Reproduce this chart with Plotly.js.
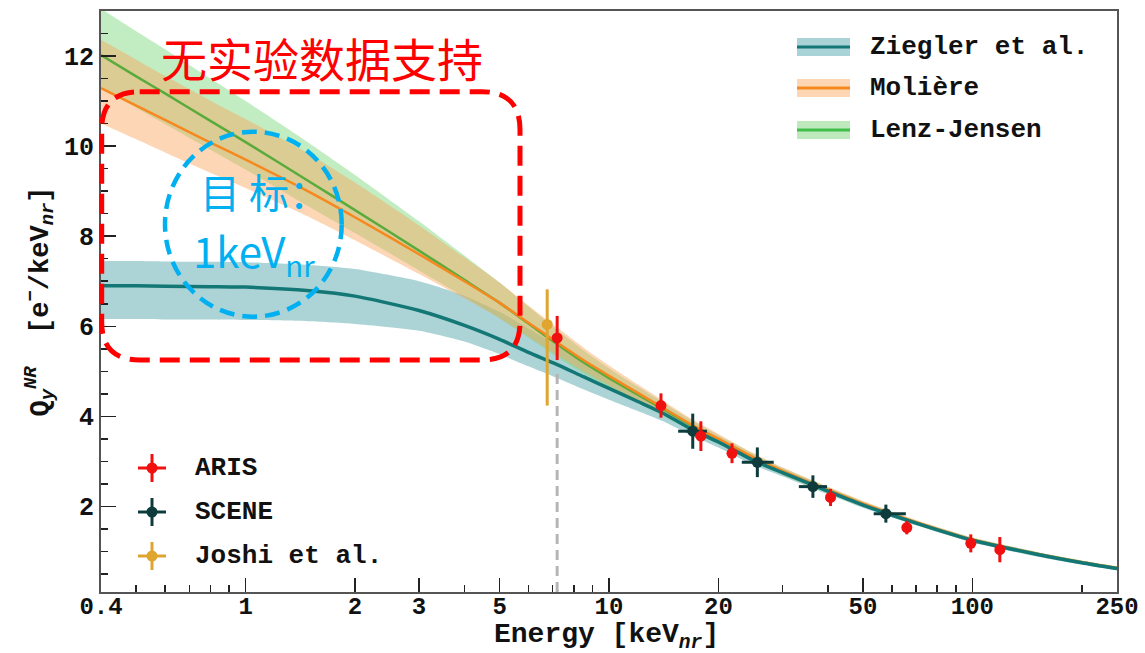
<!DOCTYPE html>
<html>
<head>
<meta charset="utf-8">
<script src="https://cdn.plot.ly/plotly-3.0.1.min.js"></script>
<style>
  html, body { margin: 0; padding: 0; background: #ffffff; }
  #chart { width: 1145px; height: 653px; }
</style>
</head>
<body>
<div id="chart"></div>
<script>
// ---------------- data ----------------
const energy = [0.4, 0.5, 0.6, 0.8, 1, 1.5, 2, 3, 4, 5, 6, 7.2, 8.5, 10, 12, 14, 17, 20, 25, 30, 40, 50, 70, 100, 150, 200, 250];

const zieglerMid = [6.90, 6.90, 6.89, 6.88, 6.87, 6.79, 6.67, 6.35, 6.02, 5.71, 5.42, 5.15, 4.88, 4.62, 4.33, 4.08, 3.70, 3.43, 3.02, 2.75, 2.34, 2.03, 1.63, 1.25, 0.94, 0.75, 0.62];
const zieglerHi  = [7.45, 7.45, 7.44, 7.43, 7.42, 7.36, 7.27, 7.00, 6.68, 6.32, 5.95, 5.57, 5.20, 4.87, 4.52, 4.24, 3.83, 3.54, 3.11, 2.83, 2.41, 2.09, 1.68, 1.30, 0.99, 0.79, 0.66];
const zieglerLo  = [6.16, 6.16, 6.15, 6.15, 6.14, 6.11, 6.05, 5.90, 5.66, 5.38, 5.11, 4.85, 4.60, 4.37, 4.12, 3.90, 3.56, 3.31, 2.92, 2.67, 2.27, 1.97, 1.58, 1.20, 0.89, 0.71, 0.58];

const moliereMid = [11.29, 10.90, 10.58, 10.08, 9.70, 8.98, 8.42, 7.60, 7.00, 6.52, 6.08, 5.64, 5.25, 4.90, 4.52, 4.20, 3.80, 3.50, 3.09, 2.79, 2.37, 2.06, 1.65, 1.26, 0.95, 0.76, 0.63];
const moliereHi  = [12.36, 11.92, 11.56, 11.01, 10.60, 9.82, 9.19, 8.24, 7.53, 6.97, 6.46, 5.97, 5.53, 5.13, 4.71, 4.36, 3.93, 3.61, 3.18, 2.87, 2.44, 2.12, 1.70, 1.31, 0.99, 0.80, 0.67];
const moliereLo  = [10.50, 10.15, 9.86, 9.41, 9.07, 8.42, 7.91, 7.16, 6.62, 6.18, 5.77, 5.36, 5.00, 4.69, 4.34, 4.05, 3.68, 3.40, 3.00, 2.71, 2.30, 2.00, 1.60, 1.21, 0.91, 0.72, 0.59];

const lenzMid = [12.02, 11.55, 11.17, 10.56, 10.09, 9.21, 8.58, 7.68, 7.03, 6.52, 6.06, 5.60, 5.20, 4.85, 4.48, 4.17, 3.78, 3.48, 3.08, 2.78, 2.36, 2.05, 1.64, 1.26, 0.95, 0.76, 0.63];
const lenzHi  = [13.05, 12.55, 12.15, 11.50, 11.00, 10.06, 9.36, 8.33, 7.57, 6.97, 6.44, 5.92, 5.47, 5.07, 4.66, 4.32, 3.90, 3.58, 3.17, 2.86, 2.43, 2.11, 1.69, 1.31, 0.99, 0.80, 0.67];
const lenzLo  = [11.30, 10.85, 10.49, 9.92, 9.48, 8.65, 8.07, 7.24, 6.65, 6.18, 5.75, 5.32, 4.95, 4.64, 4.30, 4.02, 3.66, 3.38, 2.99, 2.70, 2.29, 1.99, 1.59, 1.21, 0.91, 0.72, 0.59];

const arisE    = [7.2, 13.9, 17.9, 21.8, 40.7, 66.0, 99, 119];
const arisQ    = [5.74, 4.24, 3.56, 3.18, 2.20, 1.53, 1.18, 1.04];
const arisErrQ = [0.49, 0.27, 0.33, 0.22, 0.19, 0.15, 0.20, 0.28];
const arisErrE = [0.15, 0.3, 0.6, 0.4, 0.8, 1.2, 1.8, 2.2];

const sceneE       = [17.0, 25.6, 36.4, 57.8];
const sceneQ       = [3.67, 2.98, 2.44, 1.84];
const sceneErrQ    = [0.39, 0.33, 0.25, 0.20];
const sceneErrEPlus  = [1.6, 2.8, 3.4, 7.8];
const sceneErrEMinus = [1.5, 2.4, 3.1, 4.3];

const joshiE = [6.76];
const joshiQ = [6.04];
const joshiErrQPlus  = [0.78];
const joshiErrQMinus = [1.80];

const thresholdE = [7.2, 7.2];
const thresholdQ = [0.1, 5.0];

const xTickVals  = [0.4, 1, 2, 3, 5, 10, 20, 50, 100, 250];
const xTickText  = ['0.4', '1', '2', '3', '5', '10', '20', '50', '100', '250'];
const xMinorVals = [0.5, 0.6, 0.7, 0.8, 0.9, 4, 6, 7, 8, 9, 30, 40, 60, 70, 80, 90, 200];
const yTickVals  = [2, 4, 6, 8, 10, 12];

const modelNames = ['Ziegler et al.', 'Molière', 'Lenz-Jensen'];
const dataNames  = ['ARIS', 'SCENE', 'Joshi et al.'];

// ---------------- styles ----------------
const C = {
  zLine: '#137776', zBand: 'rgba(90,170,176,0.50)', zLeg: '#a9d3d6',
  mLine: '#f5891f', mBand: 'rgba(250,165,90,0.45)', mLeg: '#fdd6b3',
  lLine: '#5aab3c', lBand: 'rgba(120,215,120,0.45)', lLeg: '#bde9bc', lLegLine: '#3fbf4a',
  aris: '#f01010', scene: '#0e3b3c', joshi: '#dfa52f'
};
const monoFont = 'Liberation Mono, Courier New, monospace';

function bandPair(x, hi, lo, color, name) {
  return [
    { x: x, y: lo, type: 'scatter', mode: 'lines', line: { width: 0, shape: 'spline', smoothing: 0.6, color: 'rgba(0,0,0,0)' },
      hoverinfo: 'skip', showlegend: false, name: name + ' low' },
    { x: x, y: hi, type: 'scatter', mode: 'lines', fill: 'tonexty', fillcolor: color,
      line: { width: 0, shape: 'spline', smoothing: 0.6, color: 'rgba(0,0,0,0)' }, hoverinfo: 'skip', showlegend: false, name: name + ' high' }
  ];
}
function curve(x, y, color, width, name) {
  return { x: x, y: y, type: 'scatter', mode: 'lines', line: { color: color, width: width, shape: 'spline', smoothing: 0.6 }, showlegend: false, name: name };
}

const traces = [].concat(
  bandPair(energy, zieglerHi, zieglerLo, C.zBand, modelNames[0]),
  bandPair(energy, lenzHi, lenzLo, C.lBand, modelNames[2]),
  bandPair(energy, moliereHi, moliereLo, C.mBand, modelNames[1]),
  [
  curve(energy, lenzMid, C.lLine, 2.5, modelNames[2]),
  curve(energy, moliereMid, C.mLine, 2.5, modelNames[1]),
  curve(energy, zieglerMid, C.zLine, 3.5, modelNames[0]),
  { x: thresholdE, y: thresholdQ, type: 'scatter', mode: 'lines', line: { color: '#b5b5b5', width: 3, dash: '10px,6px' }, showlegend: false, hoverinfo: 'skip' },
  { x: joshiE, y: joshiQ, type: 'scatter', mode: 'markers', name: dataNames[2], showlegend: false,
    marker: { color: C.joshi, size: 11 },
    error_y: { type: 'data', symmetric: false, array: joshiErrQPlus, arrayminus: joshiErrQMinus, color: C.joshi, thickness: 3, width: 0 } },
  { x: sceneE, y: sceneQ, type: 'scatter', mode: 'markers', name: dataNames[1], showlegend: false,
    marker: { color: C.scene, size: 11 },
    error_y: { type: 'data', array: sceneErrQ, color: C.scene, thickness: 3, width: 0 },
    error_x: { type: 'data', symmetric: false, array: sceneErrEPlus, arrayminus: sceneErrEMinus, color: C.scene, thickness: 3, width: 0 } },
  { x: arisE, y: arisQ, type: 'scatter', mode: 'markers', name: dataNames[0], showlegend: false,
    marker: { color: C.aris, size: 11 },
    error_y: { type: 'data', array: arisErrQ, color: C.aris, thickness: 3, width: 0 },
    error_x: { type: 'data', array: arisErrE, color: C.aris, thickness: 3, width: 0 } }
  ]
);

// ---------------- layout helpers (pixel -> paper) ----------------
const M = { l: 101, r: 28, t: 11, b: 61 };
const PW = 1145 - M.l - M.r, PH = 653 - M.t - M.b;
const px = v => (v - M.l) / PW;
const py = v => (653 - M.b - v) / PH;

const shapes = [];
const annotations = [];

// model legend (top right)
const modelLegY = [47, 88, 130];
const modelLegBand = [C.zLeg, C.mLeg, C.lLeg];
const modelLegLine = [C.zLine, C.mLine, C.lLegLine];
modelNames.forEach((nm, i) => {
  const yc = modelLegY[i];
  shapes.push({ type: 'rect', xref: 'paper', yref: 'paper', x0: px(797), x1: px(850), y0: py(yc + 9), y1: py(yc - 9), fillcolor: modelLegBand[i], line: { width: 0 }, layer: 'above' });
  shapes.push({ type: 'line', xref: 'paper', yref: 'paper', x0: px(797), x1: px(850), y0: py(yc), y1: py(yc), line: { color: modelLegLine[i], width: 3 }, layer: 'above' });
  annotations.push({ xref: 'paper', yref: 'paper', x: px(868), y: py(yc), xanchor: 'left', yanchor: 'middle', showarrow: false, text: nm,
    font: { family: monoFont, size: 26, color: '#111', weight: 'bold' } });
});

// data legend (bottom left)
const dataLegY = [468, 512, 556];
const dataLegCol = [C.aris, C.scene, C.joshi];
dataNames.forEach((nm, i) => {
  const yc = dataLegY[i], xc = 152;
  shapes.push({ type: 'line', xref: 'paper', yref: 'paper', x0: px(xc - 14), x1: px(xc + 14), y0: py(yc), y1: py(yc), line: { color: dataLegCol[i], width: 3 }, layer: 'above' });
  shapes.push({ type: 'line', xref: 'paper', yref: 'paper', x0: px(xc), x1: px(xc), y0: py(yc - 14), y1: py(yc + 14), line: { color: dataLegCol[i], width: 3 }, layer: 'above' });
  shapes.push({ type: 'circle', xref: 'paper', yref: 'paper', x0: px(xc - 5.5), x1: px(xc + 5.5), y0: py(yc + 5.5), y1: py(yc - 5.5), fillcolor: dataLegCol[i], line: { width: 0 }, layer: 'above' });
  annotations.push({ xref: 'paper', yref: 'paper', x: px(193), y: py(yc), xanchor: 'left', yanchor: 'middle', showarrow: false, text: nm,
    font: { family: monoFont, size: 26, color: '#111', weight: 'bold' } });
});

// red dashed rounded rectangle
(function () {
  const x0 = px(101.7), x1 = px(520), yt = py(91.7), yb = py(360);
  const rx = 38 / PW, ry = 38 / PH;
  const path = `M ${x0 + rx},${yt} L ${x1 - rx},${yt} Q ${x1},${yt} ${x1},${yt - ry} L ${x1},${yb + ry} Q ${x1},${yb} ${x1 - rx},${yb} ` +
               `L ${x0 + rx},${yb} Q ${x0},${yb} ${x0},${yb + ry} L ${x0},${yt - ry} Q ${x0},${yt} ${x0 + rx},${yt} Z`;
  shapes.push({ type: 'path', xref: 'paper', yref: 'paper', path: path, line: { color: '#ff0000', width: 5, dash: '20px,10px' }, layer: 'above' });
})();

// blue dashed circle
shapes.push({ type: 'circle', xref: 'paper', yref: 'paper', x0: px(165), x1: px(341.7), y0: py(316.7), y1: py(131.7),
  line: { color: '#00b0f0', width: 4.5, dash: '15px,8px' }, layer: 'above' });

annotations.push({ xref: 'paper', yref: 'paper', x: px(322), y: py(57), xanchor: 'center', yanchor: 'middle', showarrow: false,
  text: '无实验数据支持', font: { family: 'Noto Sans CJK SC', size: 46, color: '#ff0000' } });
annotations.push({ xref: 'paper', yref: 'paper', x: px(198), y: py(191), xanchor: 'left', yanchor: 'middle', showarrow: false,
  text: '目 标：', font: { family: 'Noto Sans CJK SC', size: 40, color: '#00b0f0' } });
annotations.push({ xref: 'paper', yref: 'paper', x: px(191), y: py(252), xanchor: 'left', yanchor: 'middle', showarrow: false,
  text: '1keV<sub>nr</sub>', font: { family: 'Noto Sans CJK SC', size: 42, color: '#00b0f0' } });

// x-axis title placed below the tick labels
annotations.push({ xref: 'paper', yref: 'paper', x: px(606), y: py(636), xanchor: 'center', yanchor: 'middle', showarrow: false,
  text: 'Energy [keV<sub><i>nr</i></sub>]', font: { family: monoFont, size: 28, color: '#111', weight: 'bold' } });

const layout = {
  width: 1145, height: 653,
  margin: M,
  paper_bgcolor: '#ffffff', plot_bgcolor: '#ffffff',
  showlegend: false,
  xaxis: {
    type: 'log', range: [Math.log10(0.4), Math.log10(250)],
    tickmode: 'array', tickvals: xTickVals, ticktext: xTickText,
    ticks: 'inside', ticklen: 14, tickwidth: 1.5, tickcolor: '#222',
    minor: { tickmode: 'array', tickvals: xMinorVals, ticks: 'inside', ticklen: 7, tickwidth: 1.5, tickcolor: '#222', showgrid: false },
    showgrid: false, zeroline: false,
    showline: true, linecolor: '#555', linewidth: 2, mirror: true,
    ticklabelstandoff: -9,
    tickfont: { family: monoFont, size: 24, color: '#111', weight: 'bold' }
  },
  yaxis: {
    range: [0.1, 13.0],
    tickmode: 'array', tickvals: yTickVals,
    ticks: 'inside', ticklen: 15, tickwidth: 1.5, tickcolor: '#222',
    minor: { dtick: 0.5, tick0: 0, ticks: 'inside', ticklen: 7, tickwidth: 1.5, tickcolor: '#222', showgrid: false },
    showgrid: false, zeroline: false,
    showline: true, linecolor: '#555', linewidth: 2, mirror: true,
    tickfont: { family: monoFont, size: 25, color: '#111', weight: 'bold' },
    title: { text: 'Q<sub><i>y</i></sub><sup><i>NR</i></sup>  [e<sup>−</sup>/keV<sub><i>nr</i></sub>]', font: { family: monoFont, size: 27, color: '#111', weight: 'bold' }, standoff: 8 }
  },
  shapes: shapes,
  annotations: annotations
};

Plotly.newPlot('chart', traces, layout, { displayModeBar: false, staticPlot: true });
</script>
</body>
</html>
